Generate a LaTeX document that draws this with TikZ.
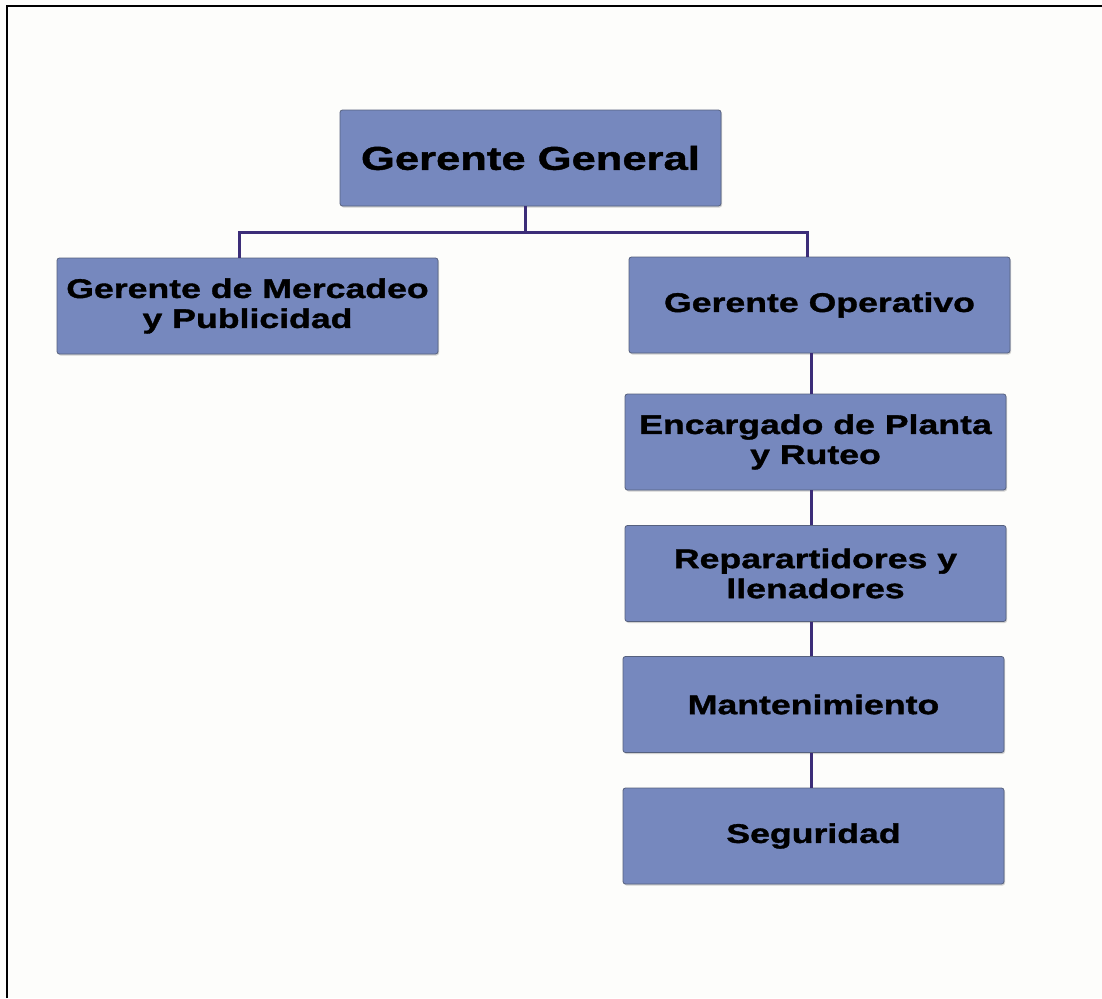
\documentclass[tikz,border=0pt]{standalone}
\usepackage{fontspec}
\setmainfont{Liberation Sans}[FakeStretch=1.32,BoldFeatures={FakeBold=1.3}]
\usepackage{tikz}
\usetikzlibrary{shadows}

\definecolor{boxblue}{HTML}{7688BE}
\definecolor{boxedge}{HTML}{56617E}
\definecolor{linkpurple}{HTML}{3C2D78}
\definecolor{paper}{HTML}{FDFDFB}

\begin{document}
\begin{tikzpicture}[x=1pt,y=-1pt,
  puesto/.style={fill=boxblue,draw=boxedge,line width=0.8pt,rounded corners=2.5pt,
    minimum width=381pt,minimum height=96pt,inner sep=0pt,align=center,
    font=\fontsize{27}{30}\selectfont\bfseries,
    drop shadow={shadow xshift=1pt,shadow yshift=-1.5pt,opacity=0.35}},
  link/.style={draw=linkpurple,line width=3pt}]
  \fill[paper] (0,0) rectangle (1102,998);
  \useasboundingbox (0,0) rectangle (1102,998);
  %frame
  \draw[line width=2pt] (6.5,998) -- (6.5,6.5) -- (1102,6.5);
  %top
  \node[puesto,at={(530.5,158)},font=\fontsize{33}{36}\selectfont\bfseries] (gg) {Gerente General};
  %second level
  \node[puesto,at={(247.5,306)}] (merc) {Gerente de Mercadeo\\y Publicidad};
  \node[puesto,at={(819.5,305)}] (oper) {Gerente Operativo};
  %chain under Gerente Operativo
  \node[puesto,at={(815.5,442)}] (enc) {Encargado de Planta\\y Ruteo};
  \node[puesto,at={(815.5,573.5)}] (rep) {Reparartidores y\\llenadores};
  \node[puesto,at={(813.5,704.5)}] (mant) {Mantenimiento};
  \node[puesto,at={(813.5,836)}] (seg) {Seguridad};
  %connectors
  \coordinate (trunk) at (525,232.5);
  \coordinate (lb) at (239.5,232.5);
  \coordinate (rb) at (807.5,232.5);
  \coordinate (spine) at (811,0);
  \draw[link] (gg.south -| trunk) -- (trunk);
  \draw[link] (merc.north -| lb) -- (lb) -- (rb) -- (oper.north -| rb);
  \draw[link] (spine |- oper.south) -- (spine |- enc.north);
  \draw[link] (spine |- enc.south) -- (spine |- rep.north);
  \draw[link] (spine |- rep.south) -- (spine |- mant.north);
  \draw[link] (spine |- mant.south) -- (spine |- seg.north);
\end{tikzpicture}
\end{document}
